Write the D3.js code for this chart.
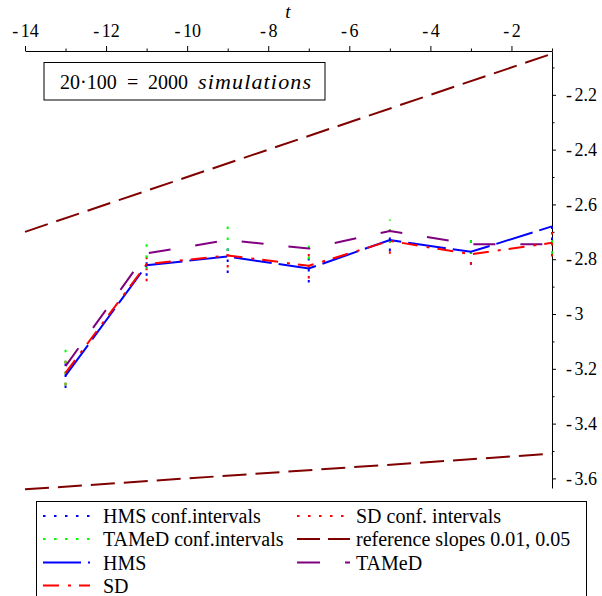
<!DOCTYPE html>
<html>
<head>
<meta charset="utf-8">
<script src="https://cdn.jsdelivr.net/npm/d3@7"></script>
<style>
  body { margin: 0; background: #fff; }
  svg { display: block; }
  svg text { font-family: 'Liberation Serif', 'Times New Roman', Times, serif; }
</style>
</head>
<body>
<svg width="602" height="596"></svg>
<script>
// time points and estimated means
const tValues = [-13, -11, -9, -7, -5, -3, -1];
const hms   = [-3.225, -2.822, -2.790, -2.834, -2.730, -2.773, -2.680];
const sd    = [-3.215, -2.818, -2.786, -2.824, -2.733, -2.782, -2.740];
const tamed = [-3.190, -2.779, -2.730, -2.761, -2.697, -2.745, -2.745];

// confidence intervals (low / high)
const hmsLow    = [-3.27, -2.86, -2.85, -2.885, -2.77, -2.82, -2.73];
const hmsHigh   = [-3.18, -2.78, -2.75, -2.785, -2.69, -2.73, -2.675];
const sdLow     = [-3.26, -2.88, -2.83, -2.87, -2.78, -2.82, -2.79];
const sdHigh    = [-3.17, -2.77, -2.75, -2.78, -2.69, -2.74, -2.70];
const tamedLow  = [-3.26, -2.835, -2.77, -2.80, -2.74, -2.78, -2.78];
const tamedHigh = [-3.13, -2.745, -2.68, -2.725, -2.655, -2.70, -2.71];

// reference slopes 0.01 and 0.05
const refT    = [-14, -1];
const refLow  = [-3.64, -3.51];
const refHigh = [-2.70, -2.05];

const xMajor = [-14, -12, -10, -8, -6, -4, -2];
const xMinor = [-13, -11, -9, -7, -5, -3, -1];
const yMajor = [-2.2, -2.4, -2.6, -2.8, -3, -3.2, -3.4, -3.6];
const yMinor = [-2.1, -2.3, -2.5, -2.7, -2.9, -3.1, -3.3, -3.5];

const svg = d3.select("svg");

const x = d3.scaleLinear().domain([-14, -1]).range([25, 552]);
const y = d3.scaleLinear().domain([-3.635, -2.04]).range([488, 51]);

// axes: t on top, values on the right
svg.append("g").attr("transform", "translate(0,51)")
    .call(d3.axisTop(x).tickValues(xMajor).tickSize(5).tickSizeOuter(0).tickPadding(9)
        .tickFormat(d => String(d)));
svg.append("g").attr("transform", "translate(0,51)")
    .call(d3.axisTop(x).tickValues(xMinor).tickSize(2.5).tickFormat(""))
    .select(".domain").remove();

svg.append("g").attr("transform", "translate(552,0)")
    .call(d3.axisRight(y).tickValues(yMajor).tickSize(4).tickSizeOuter(0).tickPadding(10)
        .tickFormat(d => String(d)));
svg.append("g").attr("transform", "translate(552,0)")
    .call(d3.axisRight(y).tickValues(yMinor).tickSize(2.5).tickFormat(""))
    .select(".domain").remove();

svg.selectAll("g").attr("font-family", null);
svg.selectAll(".domain, .tick line").attr("stroke", "#000");
// Maple-style spaced minus sign on tick labels
svg.selectAll(".tick text").each(function() {
  const t = d3.select(this), s = t.text();
  t.text("").attr("fill", "#000").style("font-size", "18px");
  if (s.startsWith("-")) {
    t.append("tspan").text("-");
    t.append("tspan").attr("dx", 2.5).text(s.slice(1));
  } else t.text(s);
});

svg.append("text").attr("x", 288).attr("y", 18).attr("text-anchor", "middle")
    .style("font-style", "italic").style("font-size", "19px").text("t");

// annotation box
svg.append("rect").attr("x", 44).attr("y", 62.5).attr("width", 281).attr("height", 37.5)
    .attr("fill", "#fff").attr("stroke", "#000");
const note = svg.append("text").attr("y", 89).style("font-size", "20px");
note.append("tspan").attr("x", 60).text("20·100");
note.append("tspan").attr("x", 127).text("=");
note.append("tspan").attr("x", 148).text("2000");
note.append("tspan").attr("x", 198).style("font-style", "italic").style("font-size", "22px")
    .attr("textLength", 113).attr("lengthAdjust", "spacing").text("simulations");

const line = d3.line().x(d => x(d[0])).y(d => y(d[1]));
const dots = "2.5,8.5";

// confidence intervals
function ci(low, high, color) {
  svg.append("g").selectAll("line")
    .data(tValues.map((t, i) => [t, low[i], high[i]]))
    .join("line")
    .attr("x1", d => x(d[0])).attr("x2", d => x(d[0]))
    .attr("y1", d => y(d[1])).attr("y2", d => y(d[2]))
    .attr("stroke", color).attr("stroke-width", 2).attr("stroke-dasharray", dots);
}
ci(hmsLow, hmsHigh, "#0000ff");
ci(sdLow, sdHigh, "#ff0000");
ci(tamedLow, tamedHigh, "#00ff00");

// reference slopes
[refLow, refHigh].forEach(r => {
  svg.append("path").datum(refT.map((t, i) => [t, r[i]]))
    .attr("d", line).attr("fill", "none")
    .attr("stroke", "#800000").attr("stroke-width", 2).attr("stroke-dasharray", "24,9");
});

function series(vals, color, dash) {
  svg.append("path").datum(tValues.map((t, i) => [t, vals[i]]))
    .attr("d", line).attr("fill", "none")
    .attr("stroke", color).attr("stroke-width", 2).attr("stroke-dasharray", dash);
}
series(hms, "#0000ff", "38,7");
series(tamed, "#800080", "22,25");
series(sd, "#ff0000", "16,9,3,8");

// legend
svg.append("rect").attr("x", 36.5).attr("y", 501.5).attr("width", 550).attr("height", 120)
    .attr("fill", "#fff").attr("stroke", "#000");

const legendItems = [
  { label: "HMS conf.intervals", color: "#0000ff", dash: dots, col: 0, row: 0 },
  { label: "SD conf. intervals", color: "#ff0000", dash: dots, col: 1, row: 0 },
  { label: "TAMeD conf.intervals", color: "#00ff00", dash: dots, col: 0, row: 1 },
  { label: "reference slopes 0.01, 0.05", color: "#800000", dash: "23,8", col: 1, row: 1 },
  { label: "HMS", color: "#0000ff", dash: "38,7", col: 0, row: 2 },
  { label: "TAMeD", color: "#800080", dash: "23,25", col: 1, row: 2 },
  { label: "SD", color: "#ff0000", dash: "16,9,3,8", col: 0, row: 3 }
];
const colX = [[43, 90, 103], [297, 350, 356]];
const rowY = [516, 539, 562.5, 585.5];

const lg = svg.append("g").selectAll("g").data(legendItems).join("g");
lg.append("line")
    .attr("x1", d => colX[d.col][0]).attr("x2", d => colX[d.col][1])
    .attr("y1", d => rowY[d.row]).attr("y2", d => rowY[d.row])
    .attr("stroke", d => d.color).attr("stroke-width", 2).attr("stroke-dasharray", d => d.dash);
lg.append("text")
    .attr("x", d => colX[d.col][2]).attr("y", d => rowY[d.row] + 7)
    .style("font-size", "20px")
    .text(d => d.label);
</script>
</body>
</html>
